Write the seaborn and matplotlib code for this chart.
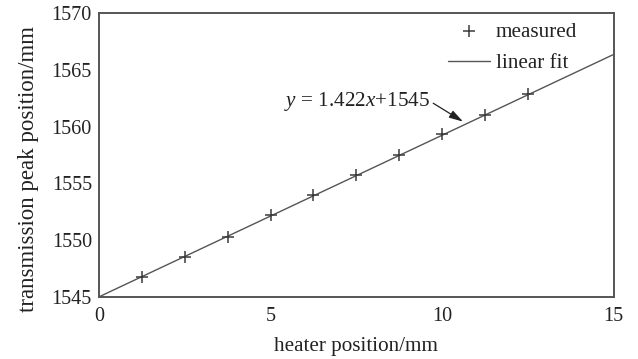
import matplotlib
matplotlib.use("Agg")
import matplotlib.pyplot as plt
import seaborn as sns
import pandas as pd

# ---- data ----
heater_pos = [1.25, 2.5, 3.75, 5.0, 6.25, 7.5, 8.75, 10.0, 11.25, 12.5]
peak_pos = [1546.76, 1548.53, 1550.29, 1552.2, 1553.95, 1555.77, 1557.45, 1559.37, 1561.05, 1562.82]
fit_x = [0.0, 15.0]
fit_y = [1545.0, 1566.35]
x_ticks = [0, 5, 10, 15]
y_ticks = [1545, 1550, 1555, 1560, 1565, 1570]
fit_label = r"$y$ = 1.422$x$+1545"

sns.set_theme(style="white")
plt.rcParams["font.family"] = ["Liberation Serif", "DejaVu Serif"]
plt.rcParams["mathtext.fontset"] = "custom"
plt.rcParams["mathtext.rm"] = "Liberation Serif"
plt.rcParams["mathtext.it"] = "Liberation Serif:italic"

FS_TICK = 14.5
FS = 15.2
FS_Y = 16.5
dark = "#3a3a3a"
txt = "#222222"

fig = plt.figure(figsize=(6.38, 3.59), dpi=100)
ax = fig.add_axes([0.155, 0.173, 0.807, 0.791])

meas = pd.DataFrame({"x": heater_pos, "y": peak_pos})
fit = pd.DataFrame({"x": fit_x, "y": fit_y})

sns.scatterplot(data=meas, x="x", y="y", marker="+", s=75, color=dark,
                linewidth=1.1, ax=ax, label="measured", zorder=3)
sns.lineplot(data=fit, x="x", y="y", color="#555555", linewidth=1.0,
             ax=ax, label="linear fit", zorder=2)

ax.set_xlim(0, 15)
ax.set_ylim(1545, 1570)
ax.set_xticks(x_ticks)
ax.set_yticks(y_ticks)
ax.tick_params(direction="in", length=4, width=1, colors=dark, labelsize=FS_TICK,
               labelcolor=txt, top=False, right=False)
ax.tick_params(axis="y", pad=5)
ax.tick_params(axis="x", pad=7)
for s in ax.spines.values():
    s.set_color("#555555")
    s.set_linewidth(1.4)
    s.set_visible(True)

ax.set_xlabel("heater position/mm", fontsize=FS, color=txt, labelpad=8)
ax.set_ylabel("transmission peak position/mm", fontsize=FS_Y, color=txt)
ax.yaxis.set_label_coords(-0.117, 0.45)

leg = ax.legend(loc="upper left", bbox_to_anchor=(0.6777, 0.968), frameon=False,
                fontsize=FS, handlelength=2.0, handletextpad=0.27,
                borderaxespad=0, borderpad=0, labelspacing=0.55)
for t in leg.get_texts():
    t.set_color(txt)

ax.text(9.64, 1562.19, fit_label, fontsize=FS, ha="right", va="center", color=txt)
ax.annotate("", xy=(10.61, 1560.43), xytext=(9.74, 1562.05),
            arrowprops=dict(arrowstyle="-|>,head_length=0.7,head_width=0.2",
                            color=txt, lw=0.9, shrinkA=0, shrinkB=0,
                            mutation_scale=12))

fig.savefig("out.png", dpi=100)
